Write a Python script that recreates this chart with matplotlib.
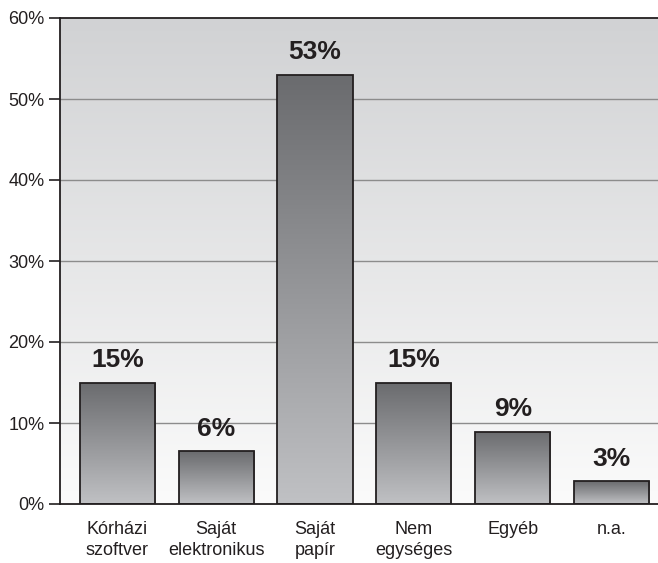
import numpy as np
import matplotlib
matplotlib.use('Agg')
import matplotlib.pyplot as plt
from matplotlib import font_manager
from matplotlib.colors import LinearSegmentedColormap

categories = ["Kórházi\nszoftver", "Saját\nelektronikus", "Saját\npapír",
              "Nem\negységes", "Egyéb", "n.a."]
values = [15, 6.5, 53, 15, 8.9, 2.8]
labels = ["15%", "6%", "53%", "15%", "9%", "3%"]
yticks = [0, 10, 20, 30, 40, 50, 60]

names = {f.name for f in font_manager.fontManager.ttflist}
fam = "Liberation Sans Narrow" if "Liberation Sans Narrow" in names else "Liberation Sans"
plt.rcParams['font.family'] = [fam, 'DejaVu Sans']

fig = plt.figure(figsize=(6.58, 5.63), dpi=100)
ax = fig.add_axes([60/658, 59/563, 598/658, 486/563])
x0lim, x1lim = -0.58, 5.47

# background gradient
bg = np.linspace(0, 1, 256).reshape(-1, 1)
bg_cmap = LinearSegmentedColormap.from_list("bg", ["#fbfbfb", "#d1d2d4"])
ax.imshow(bg, cmap=bg_cmap, aspect='auto', extent=(x0lim, x1lim, 0, 60),
          origin='lower', zorder=0)

for y in yticks[1:-1]:
    ax.axhline(y, color="#8c8c8c", lw=1.0, zorder=1)

bar_cmap = LinearSegmentedColormap.from_list("bar", ["#c0c1c4", "#6a6b6e"])
bars = ax.bar(range(len(values)), values, width=0.76, facecolor='none',
              edgecolor="#231f20", lw=1.3, zorder=3)
for b in bars:
    bx, h = b.get_x(), b.get_height()
    im = ax.imshow(bg, cmap=bar_cmap, aspect='auto',
                   extent=(bx, bx + b.get_width(), 0, h), origin='lower', zorder=2)
    im.set_clip_path(b)

for i, (v, t) in enumerate(zip(values, labels)):
    ax.text(i, v + 1.3, t, ha='center', va='bottom', fontsize=19,
            fontweight='bold', color="#231f20")

ax.set_xlim(x0lim, x1lim)
ax.set_ylim(0, 60)
ax.set_yticks(yticks)
ax.set_yticklabels([f"{y}%" for y in yticks], fontsize=13, color="#231f20")
ax.set_xticks(range(len(categories)))
ax.set_xticklabels(categories, fontsize=13, color="#231f20", linespacing=1.3)
ax.tick_params(axis='x', length=0, pad=12)
ax.tick_params(axis='y', length=8, width=1.2, color="#231f20", pad=3)
for s in ['left', 'bottom', 'top']:
    ax.spines[s].set_color("#231f20")
    ax.spines[s].set_linewidth(1.3)
ax.spines['right'].set_visible(False)

fig.savefig("out.png", dpi=100)
